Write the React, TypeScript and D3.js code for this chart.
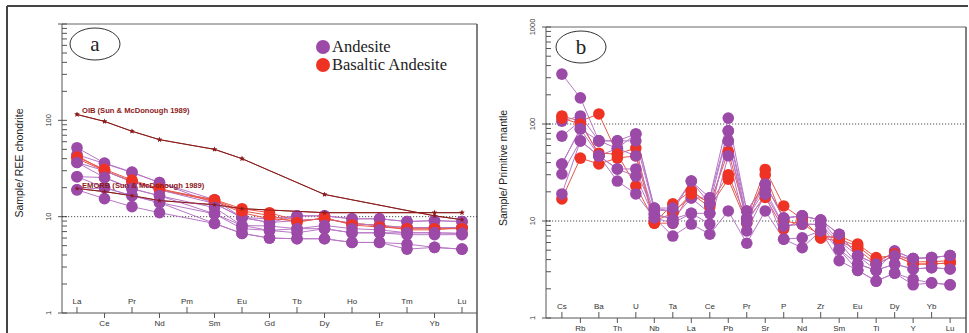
import React, { useEffect, useRef } from "react";
import * as d3 from "d3";

// ---- panel a: chondrite-normalised REE ----
const reeElements = ["La", "Ce", "Pr", "Nd", "Pm", "Sm", "Eu", "Gd", "Tb", "Dy", "Ho", "Er", "Tm", "Yb", "Lu"];

const reeAndesite = [
  [52, 36, 29, 22.6, null, 15, 9.8, 9.5, 10.2, 10.2, 9.5, 9.5, 8.9, 9.1, 8.9],
  [44, 35.6, 28.7, 22.6, null, 13.7, 9.8, 8.7, 10.2, 10.2, 9.5, 9.5, 8.9, 9.1, 8.9],
  [36.5, 30, 23, 19, null, 13.7, 9.8, 8.7, 9.1, 9.5, 8.5, 8.1, 7.7, 7.7, 7.7],
  [36.5, 25.5, 19.5, 16.5, null, 12.4, 8.1, 8.0, 7.5, 8.1, 7.5, 7.3, 6.8, 6.8, 6.7],
  [26, 25.5, 19.5, 16.5, null, 10.7, 8.1, 7.2, 7.5, 7.5, 6.8, 6.8, 6.8, 6.8, 6.7],
  [26, 20, 16.5, 14, null, 10.7, 7.5, 7.2, 6.8, 7.5, 6.8, 6.8, 6.5, 6.5, 6.5],
  [19, 20, 16.5, 14, null, 8.5, 6.7, 6.0, 5.9, 5.9, 5.4, 5.4, 5.2, 4.8, 4.6],
  [19, 15.4, 12.7, 11, null, 8.5, 6.7, 6.0, 5.9, 5.9, 5.4, 5.4, 4.6, 4.8, 4.6],
];

const reeBasaltic = [
  [43, 30, 23, 19, null, 15, 12.1, 11, 9.1, 9.5, 8.5, 8.1, 7.7, 7.7, 7.7],
  [40, 30, 23.2, 19, null, 14.5, 11, 9.5, 9.1, 9.5, 8.5, 8.1, 7.3, 7.3, 7.7],
  [41.5, 31, 24, 19.5, null, 14.8, 11.5, 10.3, 8.7, 9.8, 8.2, 7.8, 7.5, 7.5, 7.5],
];

const oibRee = [115, 97.5, 77, 63, null, 50, 40, null, null, 17, null, null, null, 10.2, 9.3];
const emorbRee = [19.6, 18.2, 16.5, 14.7, null, 13.3, 12.1, null, null, 11, null, null, null, 11, 11];

// ---- panel b: primitive-mantle-normalised spider ----
const spiderElements = ["Cs", "Rb", "Ba", "Th", "U", "Nb", "Ta", "La", "Ce", "Pb", "Pr", "Sr", "P", "Nd", "Zr", "Sm", "Eu", "Ti", "Dy", "Y", "Yb", "Lu"];

const spiderAndesite = [
  [327, 186, 67, 56, 79, 13.6, 12.6, 25.8, 17.3, 115, 12.7, 24, 10.7, 11.3, 10.2, 7.3, 4.4, 3.1, 4.9, 4.1, 4.2, 4.4],
  [107, 121, 67, 67, 67, 13, 12.6, 17.3, 17.3, 85, 12.7, 24, 10.7, 11.3, 10.2, 6.2, 4.4, 3.6, 4.9, 4.1, 4.2, 4.4],
  [75, 107, 47, 56, 47, 11.8, 10.5, 17.3, 12, 67, 10.7, 21, 8.9, 9.3, 9.2, 6, 3.6, 3.1, 3.6, 3.2, 3.3, 3.2],
  [38.7, 89, 47, 34.4, 34.4, 11.8, 10.5, 12, 12, 67, 9.6, 19, 8.9, 9.3, 9.2, 5.1, 3.6, 3.1, 3.6, 3.2, 3.3, 3.2],
  [30.5, 67, 47, 34.4, 29, 10.8, 9.5, 12, 9.3, 47, 7.9, 19, 6.5, 6.7, 7.9, 5.1, 3.1, 2.4, 2.9, 2.5, 2.3, 2.2],
  [19, 67, 47, 25.8, 19, 10.8, 7, 9.3, 7.3, 12.7, 5.9, 12.7, 6.5, 5.3, 7.9, 3.9, 3.1, 2.4, 2.9, 2.2, 2.3, 2.2],
  [38.7, 89, 67, 67, 79, 13.6, 13.6, 25.8, 15, 85, 10.7, 24, 10.7, 11.3, 10.2, 7.3, 4.4, 3.6, 4.4, 4.1, 4.2, 4.4],
];

const spiderBasaltic = [
  [121, 107, 127, 49, 56.5, 9.5, 15, 20.4, 15, 52, 10.5, 34, 14.3, 10.5, 6.7, 7.0, 5.8, 4.2, 4.4, 3.6, 3.6, 3.7],
  [16.9, 44.5, 38.7, 44.5, 47, 9.5, 9.5, 20.4, 15, 30, 10.5, 17.5, 8.3, 10.5, 6.7, 6.2, 5.1, 3.6, 4.4, 3.6, 3.6, 3.7],
  [115, 100, 50, 49, 23, 10, 12, 19, 14, 27, 9.5, 30, 10, 9.3, 7.2, 6.5, 5.5, 3.9, 4.6, 3.8, 3.8, 3.9],
];

const legendItems = ["Andesite", "Basaltic Andesite"];

const purple = "#9c4aa8";
const purpleLine = "#b877c6";
const red = "#ee3324";
const redLine = "#e8584a";
const refColor = "#8b1a1a";

const width = 969;
const height = 333;

const drawPanel = (svg, p) => {
  const x = d3.scalePoint().domain(p.elements).range([p.left, p.right]).padding(p.pad);
  const y = d3.scaleLog().domain([1, 1000]).range([p.bottom, p.top]);
  const g = svg.append("g");

  // frame
  g.append("line").attr("x1", p.left).attr("x2", p.right).attr("y1", p.top).attr("y2", p.top).attr("stroke", "#666");
  g.append("line").attr("x1", p.right).attr("x2", p.right).attr("y1", p.top).attr("y2", height).attr("stroke", "#555").attr("stroke-width", 1.5);
  g.append("line").attr("x1", p.left).attr("x2", p.left).attr("y1", p.top).attr("y2", p.bottom).attr("stroke", "#555");
  g.append("line").attr("x1", p.left).attr("x2", p.right).attr("y1", p.bottom).attr("y2", p.bottom).attr("stroke", "#555");

  // y ticks (log)
  const tickVals = [];
  [1, 10, 100].forEach((d) => d3.range(1, 10).forEach((k) => tickVals.push(k * d)));
  tickVals.push(1000);
  tickVals.forEach((v) => {
    const major = [1, 10, 100, 1000].includes(v);
    g.append("line")
      .attr("x1", major ? p.left - 4 : p.left)
      .attr("x2", p.left + 5)
      .attr("y1", y(v))
      .attr("y2", y(v))
      .attr("stroke", "#555");
  });
  p.yLabels.forEach((v) => {
    g.append("text")
      .attr("transform", `translate(${p.left - 11},${y(v)}) rotate(-90)`)
      .attr("text-anchor", "middle")
      .attr("font-family", "Liberation Sans, Arial, sans-serif")
      .attr("font-size", 7.5)
      .attr("fill", "#333")
      .text(v);
  });
  g.append("text")
    .attr("transform", `translate(${p.titleX},${p.titleY}) rotate(-90)`)
    .attr("text-anchor", "middle")
    .attr("font-family", "Liberation Sans, Arial, sans-serif")
    .attr("font-size", 10.5)
    .attr("fill", "#222")
    .text(p.title);

  // dotted guides
  p.guides.forEach((v) => {
    g.append("line")
      .attr("x1", p.left)
      .attr("x2", p.right)
      .attr("y1", y(v))
      .attr("y2", y(v))
      .attr("stroke", "#222")
      .attr("stroke-width", 0.8)
      .attr("stroke-dasharray", "1.2,1.8");
  });

  // x ticks, staggered
  p.elements.forEach((el, i) => {
    const up = i % 2 === 0;
    g.append("line")
      .attr("x1", x(el))
      .attr("x2", x(el))
      .attr("y1", up ? p.bottom - 6 : p.bottom)
      .attr("y2", up ? p.bottom : p.bottom + 5)
      .attr("stroke", "#555");
    g.append("text")
      .attr("x", x(el))
      .attr("y", up ? p.bottom - 9 : p.bottom + 13)
      .attr("text-anchor", "middle")
      .attr("font-family", "Liberation Sans, Arial, sans-serif")
      .attr("font-size", 8)
      .attr("fill", "#333")
      .text(el);
  });

  const toPts = (vals) => vals.map((v, i) => [p.elements[i], v]).filter((d) => d[1] != null);
  const line = d3.line().x((d) => x(d[0])).y((d) => y(d[1]));
  const star = d3.symbol(d3.symbolStar, 9);

  // reference curves (OIB / E-MORB)
  (p.refs || []).forEach((r) => {
    const pts = toPts(r.values);
    g.append("path").attr("d", line(pts)).attr("fill", "none").attr("stroke", refColor).attr("stroke-width", 1);
    g.selectAll(null)
      .data(pts)
      .join("path")
      .attr("transform", (d) => `translate(${x(d[0])},${y(d[1])})`)
      .attr("d", star)
      .attr("fill", refColor);
  });

  // sample lines, then markers on top
  const samples = [];
  const n = Math.max(p.andesite.length, p.basaltic.length);
  for (let i = 0; i < n; i++) {
    if (p.andesite[i]) samples.push({ vals: p.andesite[i], fill: purple, stroke: purpleLine });
    if (p.basaltic[i]) samples.push({ vals: p.basaltic[i], fill: red, stroke: redLine });
  }
  samples.forEach((s) => {
    g.append("path").attr("d", line(toPts(s.vals))).attr("fill", "none").attr("stroke", s.stroke).attr("stroke-width", 1);
  });
  samples.forEach((s) => {
    g.selectAll(null)
      .data(toPts(s.vals))
      .join("circle")
      .attr("cx", (d) => x(d[0]))
      .attr("cy", (d) => y(d[1]))
      .attr("r", 5.8)
      .attr("fill", s.fill);
  });

  // reference lines stay visible over the sample markers, as in the source figure
  (p.refs || []).forEach((r) => {
    const pts = toPts(r.values);
    g.append("path").attr("d", line(pts)).attr("fill", "none").attr("stroke", refColor).attr("stroke-width", 0.8);
    g.selectAll(null)
      .data(pts)
      .join("path")
      .attr("transform", (d) => `translate(${x(d[0])},${y(d[1])})`)
      .attr("d", star)
      .attr("fill", refColor);
    g.append("text")
      .attr("x", x(p.elements[0]) + 5)
      .attr("y", y(r.values[0]) - 1)
      .attr("font-family", "Liberation Sans, Arial, sans-serif")
      .attr("font-weight", "bold")
      .attr("font-size", 7.6)
      .attr("fill", refColor)
      .text(r.label);
  });

  // panel letter in ellipse
  g.append("ellipse")
    .attr("cx", p.tagX)
    .attr("cy", p.tagY)
    .attr("rx", 25)
    .attr("ry", 16)
    .attr("fill", "white")
    .attr("stroke", "#333");
  g.append("text")
    .attr("x", p.tagX)
    .attr("y", p.tagY + 7)
    .attr("text-anchor", "middle")
    .attr("font-family", "Liberation Serif, Times New Roman, serif")
    .attr("font-size", 21)
    .attr("fill", "#222")
    .text(p.tag);
};

const App = () => {
  const svgRef = useRef(null);

  useEffect(() => {
    const svg = d3.select(svgRef.current);
    svg.selectAll("*").remove();

    // outer figure border
    svg.append("line").attr("x1", 7).attr("x2", 968).attr("y1", 6).attr("y2", 6).attr("stroke", "#444").attr("stroke-width", 2);
    svg.append("line").attr("x1", 7).attr("x2", 7).attr("y1", 6).attr("y2", height).attr("stroke", "#444").attr("stroke-width", 2);

    drawPanel(svg, {
      elements: reeElements,
      left: 62,
      right: 477,
      top: 24,
      bottom: 313,
      pad: 0.545,
      yLabels: [1, 10, 100],
      guides: [10],
      title: "Sample/ REE chondrite",
      titleX: 23,
      titleY: 163,
      andesite: reeAndesite,
      basaltic: reeBasaltic,
      refs: [
        { values: oibRee, label: "OIB (Sun & McDonough 1989)" },
        { values: emorbRee, label: "EMORB (Sun & McDonough 1989)" },
      ],
      tag: "a",
      tagX: 95,
      tagY: 44,
    });

    drawPanel(svg, {
      elements: spiderElements,
      left: 546,
      right: 966,
      top: 27,
      bottom: 318,
      pad: 0.86,
      yLabels: [1, 10, 100, 1000],
      guides: [10, 100],
      title: "Sample/ Primitive mantle",
      titleX: 507,
      titleY: 168,
      andesite: spiderAndesite,
      basaltic: spiderBasaltic,
      tag: "b",
      tagX: 581,
      tagY: 47,
    });

    // legend
    const legend = svg.append("g");
    legendItems.forEach((name, i) => {
      legend.append("circle").attr("cx", 323).attr("cy", 47 + i * 18).attr("r", 7).attr("fill", i === 0 ? purple : red);
      legend
        .append("text")
        .attr("x", 332)
        .attr("y", 52 + i * 18)
        .attr("font-family", "Liberation Serif, Times New Roman, serif")
        .attr("font-size", 16.5)
        .attr("fill", "#222")
        .text(name);
    });
  }, []);

  return (
    <svg
      ref={svgRef}
      width={width}
      height={height}
      style={{ position: "absolute", left: 0, top: 0, background: "white" }}
    ></svg>
  );
};

export default App;
